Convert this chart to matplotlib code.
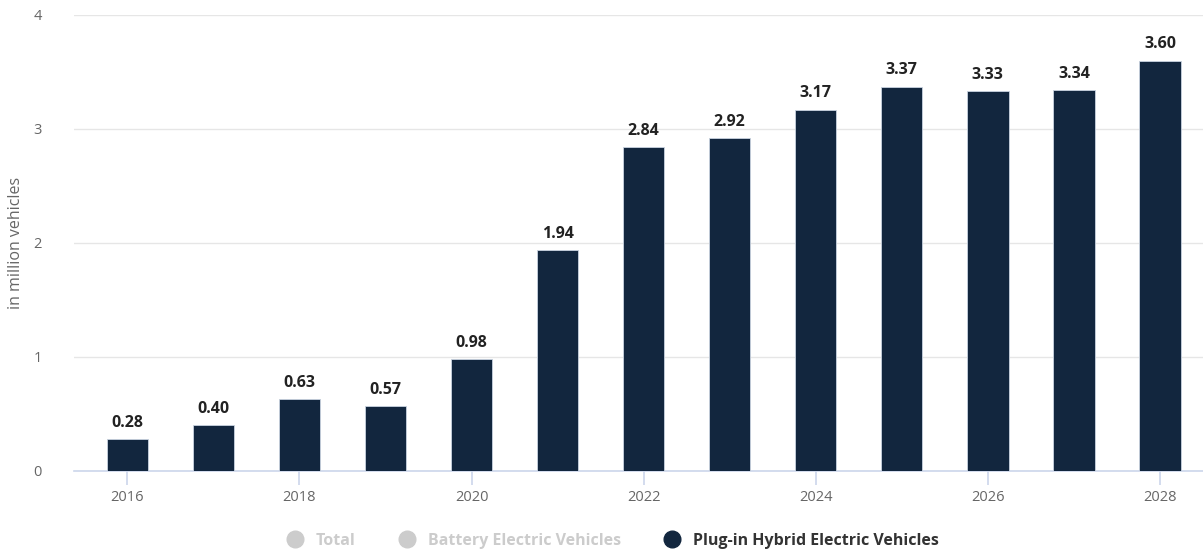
import numpy as np
import matplotlib.pyplot as plt
from matplotlib.lines import Line2D

years = [2016, 2017, 2018, 2019, 2020, 2021, 2022, 2023, 2024, 2025, 2026, 2027, 2028]
phev_sales = [0.28, 0.40, 0.63, 0.57, 0.98, 1.94, 2.84, 2.92, 3.17, 3.37, 3.33, 3.34, 3.60]
y_ticks = [0, 1, 2, 3, 4]
legend_labels = ["Total", "Battery Electric Vehicles", "Plug-in Hybrid Electric Vehicles"]

bar_color = "#12263e"
plt.rcParams["font.family"] = ["Open Sans", "DejaVu Sans"]

fig = plt.figure(figsize=(12.03, 5.56), dpi=100)
ax = fig.add_axes([74 / 1203, 85 / 556, 1 - 74 / 1203, (471 - 15) / 556])

x = np.arange(len(years))
ax.bar(x, phev_sales, width=0.48, color=bar_color, edgecolor="#c9d3e0",
       linewidth=0.6, zorder=3)

# value labels over each bar
for xi, v in zip(x, phev_sales):
    ax.annotate(f"{v:.2f}", (xi, v), xytext=(0, 6), textcoords="offset points",
                ha="center", va="bottom", fontsize=11.5, fontweight="bold",
                color="#222222")

ax.set_xlim(-0.62, 12.5)
ax.set_ylim(0, 4)
ax.set_yticks(y_ticks)
ax.set_yticklabels([str(t) for t in y_ticks])
ax.grid(axis="y", color="#e6e6e6", linewidth=1, zorder=0)

# even years get a tick and label
even_idx = [i for i, y in enumerate(years) if y % 2 == 0]
ax.set_xticks(even_idx)
ax.set_xticklabels([str(years[i]) for i in even_idx])

for side in ("top", "right", "left"):
    ax.spines[side].set_visible(False)
ax.spines["bottom"].set_color("#ccd6eb")
ax.spines["bottom"].set_linewidth(1.2)

ax.tick_params(axis="x", colors="#ccd6eb", length=10, width=1.2, pad=4,
               labelcolor="#666666", labelsize=10.5)
ax.tick_params(axis="y", length=0, pad=23, labelcolor="#666666", labelsize=10.5)

ax.set_ylabel("in million vehicles", color="#666666", fontsize=11.5)
ax.yaxis.set_label_coords(-0.0445, 0.5)

# legend: first two series hidden (greyed out)
handles = [
    Line2D([], [], marker="o", linestyle="", markersize=12, color="#cccccc"),
    Line2D([], [], marker="o", linestyle="", markersize=12, color="#cccccc"),
    Line2D([], [], marker="o", linestyle="", markersize=12, color=bar_color),
]
leg = fig.legend(handles, legend_labels, loc="center", bbox_to_anchor=(609 / 1203, 1 - 541 / 556),
                 ncol=3, frameon=False, handletextpad=0.3, columnspacing=2.2,
                 prop={"weight": "bold", "size": 11.5})
for txt, col in zip(leg.get_texts(), ["#cccccc", "#cccccc", "#333333"]):
    txt.set_color(col)

fig.savefig("out.png", dpi=100)
